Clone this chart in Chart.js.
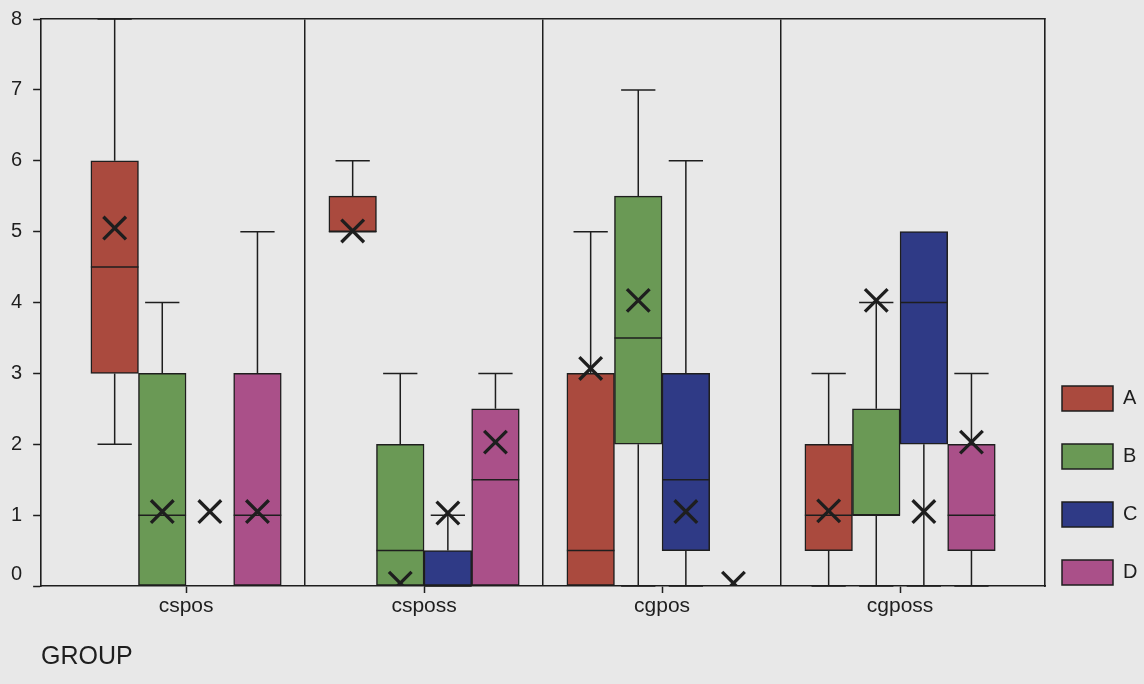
<!DOCTYPE html>
<html>
<head>
<meta charset="utf-8">
<script src="https://cdn.jsdelivr.net/npm/chart.js@4/dist/chart.umd.min.js"></script>
<style>
  html, body { margin: 0; padding: 0; background: #e8e8e8; }
  canvas { display: block; }
</style>
</head>
<body>
<canvas id="chart" width="1144" height="684"></canvas>
<script>
// Categories, series and axis ticks
const groups = ['cspos', 'csposs', 'cgpos', 'cgposs'];
const seriesNames = ['A', 'B', 'C', 'D'];
const yTicks = [0, 1, 2, 3, 4, 5, 6, 7, 8];

// Box statistics: one row per series (A, B, C, D), one column per group
const whiskerLow  = [[2, 5, 0, 0],      [0, 0, 0, 0],       [null, 0, 0, 0],    [0, 0, null, 0]];
const quartile1   = [[3, 5, 0, 0.5],    [0, 0, 2, 1],       [null, 0, 0.5, 2],  [0, 0, null, 0.5]];
const medians     = [[4.5, 5, 0.5, 1],  [1, 0.5, 3.5, 1],   [null, 0, 1.5, 4],  [1, 1.5, null, 1]];
const quartile3   = [[6, 5.5, 3, 2],    [3, 2, 5.5, 2.5],   [null, 0.5, 3, 5],  [3, 2.5, null, 2]];
const whiskerHigh = [[8, 6, 5, 3],      [4, 3, 7, 4],       [null, 1, 6, 5],    [5, 3, null, 3]];
const means       = [[5.05, 5.01, 3.07, 1.06], [1.05, 0.04, 4.03, 4.03], [1.05, 1.03, 1.05, 1.05], [1.05, 2.03, 0.04, 2.03]];

// Styling
const ink = '#1e1e1e';
const fills = ['#aa4a3e', '#6a9955', '#2f3a86', '#aa5089'];
const slot = [-0.3, -0.1, 0.1, 0.3];     // position of each series inside a group
const edge = 0.609;                        // space between outer boxes and the frame
const family = "'Liberation Sans', Arial, Helvetica, sans-serif";
const lineW = 1.5;

Chart.defaults.font.family = family;
Chart.defaults.color = ink;

const boxSets = seriesNames.map((name, s) => ({
  type: 'bar',
  label: name,
  order: 1,
  data: groups
    .map((g, i) => quartile1[s][i] == null ? null
      : { x: i + slot[s], y: [quartile1[s][i], quartile3[s][i]], g: i })
    .filter(Boolean),
  backgroundColor: fills[s],
  borderColor: ink,
  borderWidth: lineW,
  borderSkipped: false,
  grouped: false,
  barPercentage: 1,
  categoryPercentage: 1
}));

const meanSet = {
  type: 'scatter',
  label: 'mean',
  order: 0,
  data: seriesNames.flatMap((n, s) => groups.map((g, i) => ({ x: i + slot[s], y: means[s][i] }))),
  pointStyle: 'crossRot',
  pointRadius: 16,
  pointHoverRadius: 16,
  borderColor: ink,
  backgroundColor: 'transparent',
  borderWidth: 3.3
};

// Whiskers (under the boxes) and median lines (on each box)
const boxParts = {
  id: 'boxParts',
  beforeDatasetsDraw(chart) {
    const { ctx, scales: { x, y } } = chart;
    ctx.save();
    ctx.strokeStyle = ink;
    ctx.lineWidth = lineW;
    seriesNames.forEach((n, s) => {
      const meta = chart.getDatasetMeta(s);
      const capHalf = (meta.data.length ? meta.data[0].width : 47) * 0.36;
      groups.forEach((g, i) => {
        if (quartile1[s][i] == null) return;
        const cx = x.getPixelForValue(i + slot[s]);
        const segs = [];
        if (whiskerHigh[s][i] != null && whiskerHigh[s][i] > quartile3[s][i]) segs.push([quartile3[s][i], whiskerHigh[s][i]]);
        if (whiskerLow[s][i] != null && whiskerLow[s][i] < quartile1[s][i]) segs.push([quartile1[s][i], whiskerLow[s][i]]);
        segs.forEach(([from, to]) => {
          const y0 = y.getPixelForValue(from);
          const y1 = y.getPixelForValue(to);
          ctx.beginPath();
          ctx.moveTo(cx, y0);
          ctx.lineTo(cx, y1);
          ctx.moveTo(cx - capHalf, y1);
          ctx.lineTo(cx + capHalf, y1);
          ctx.stroke();
        });
      });
    });
    ctx.restore();
  },
  afterDatasetDraw(chart, args) {
    const s = args.index;
    if (s >= seriesNames.length) return;
    const { ctx, scales: { y } } = chart;
    const ds = chart.data.datasets[s];
    ctx.save();
    ctx.strokeStyle = ink;
    ctx.lineWidth = lineW;
    args.meta.data.forEach((bar, j) => {
      const i = ds.data[j].g;
      const my = y.getPixelForValue(medians[s][i]);
      ctx.beginPath();
      ctx.moveTo(bar.x - bar.width / 2, my);
      ctx.lineTo(bar.x + bar.width / 2, my);
      ctx.stroke();
    });
    ctx.restore();
  }
};

// Legend sits low, beside the bottom half of the frame
const legendPlacement = {
  id: 'legendPlacement',
  afterLayout(chart) {
    const lg = chart.legend;
    const area = chart.chartArea;
    const pad = lg.options.labels.padding;
    lg.left = area.right + 17 - pad;
    lg.top = area.bottom - 200 - pad;
    lg.right = chart.width;
    lg.bottom = chart.height;
    lg.width = lg.right - lg.left;
    lg.height = lg.bottom - lg.top;
  }
};

new Chart(document.getElementById('chart'), {
  type: 'bar',
  data: { datasets: [...boxSets, meanSet] },
  plugins: [boxParts, legendPlacement],
  options: {
    responsive: false,
    animation: false,
    events: [],
    devicePixelRatio: 1,
    layout: { autoPadding: false, padding: { left: 0, top: 19, right: 0, bottom: 0 } },
    plugins: {
      tooltip: { enabled: false },
      legend: {
        position: 'right',
        align: 'start',
        maxWidth: 99,
        labels: {
          boxWidth: 51,
          boxHeight: 25,
          padding: 33,
          font: { size: 20 },
          color: ink,
          filter: item => item.datasetIndex < seriesNames.length
        }
      }
    },
    scales: {
      x: {
        type: 'linear',
        min: -edge,
        max: groups.length - 1 + edge,
        offset: false,
        afterBuildTicks: sc => { sc.ticks = groups.map((g, i) => ({ value: i })); },
        ticks: {
          font: { size: 21 },
          color: ink,
          padding: 1,
          autoSkip: false,
          maxRotation: 0,
          callback: v => groups[v] ?? ''
        },
        grid: { offset: false, drawOnChartArea: false, drawTicks: true, tickLength: 7, tickColor: ink, tickWidth: lineW },
        border: { display: true, color: ink, width: 1.6 },
        title: {
          display: true,
          text: 'GROUP',
          align: 'start',
          font: { size: 25 },
          color: ink,
          padding: { top: 21.8, bottom: 12 }
        }
      },
      x2: {
        type: 'linear',
        position: 'top',
        min: -edge,
        max: groups.length - 1 + edge,
        offset: false,
        afterBuildTicks: sc => { sc.ticks = groups.slice(1).map((g, i) => ({ value: i + 0.5 })); },
        ticks: { display: false },
        grid: { offset: false, drawTicks: false, color: ink, lineWidth: lineW },
        border: { display: true, color: ink, width: 1.6 }
      },
      y: {
        type: 'linear',
        min: 0,
        max: 8,
        afterBuildTicks: sc => { sc.ticks = yTicks.map(v => ({ value: v })); },
        afterFit: sc => { sc.paddingTop = 0; sc.paddingBottom = 0; },
        ticks: {
          font: { size: 20 },
          color: ink,
          padding: 11,
          callback: v => v === 0 ? ['0', ''] : String(v)
        },
        grid: { drawOnChartArea: false, drawTicks: true, tickLength: 8, tickColor: ink, tickWidth: lineW },
        border: { display: true, color: ink, width: 1.6 }
      },
      y2: {
        type: 'linear',
        position: 'right',
        min: 0,
        max: 8,
        ticks: { display: false },
        grid: { drawOnChartArea: false, drawTicks: false },
        border: { display: true, color: ink, width: 1.6 }
      }
    }
  }
});
</script>
</body>
</html>
